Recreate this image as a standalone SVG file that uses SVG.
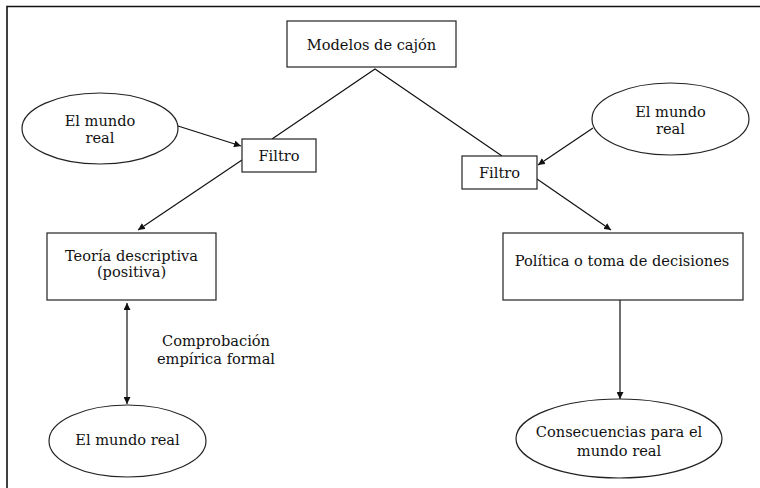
<svg xmlns="http://www.w3.org/2000/svg" width="760" height="488" viewBox="0 0 760 488">
<style>
.n{fill:#fff;stroke:#222;stroke-width:1.2}
.t{font-family:'DejaVu Serif',serif;font-size:14.6px;fill:#111;text-anchor:middle}
.c{fill:none;stroke:#111;stroke-width:1.2}
</style>
<defs>
<marker id="ah" viewBox="0 0 10 10" refX="10" refY="5" markerWidth="7" markerHeight="7" markerUnits="userSpaceOnUse" orient="auto-start-reverse">
<path d="M0,0 L10,5 L0,10 z" fill="#111"/>
</marker>
</defs>
<path d="M7,488 V6.5 H760" fill="none" stroke="#111" stroke-width="1.6"/>
<g id="connectors">
<path class="c" d="M272,139 L375,69 L502,156"/>
<line class="c" x1="178" y1="126" x2="241" y2="146" marker-end="url(#ah)"/>
<line class="c" x1="242" y1="160" x2="138" y2="230" marker-end="url(#ah)"/>
<line class="c" x1="593" y1="128" x2="538" y2="165" marker-end="url(#ah)"/>
<line class="c" x1="537" y1="179" x2="611" y2="230" marker-end="url(#ah)"/>
<line class="c" x1="620" y1="300" x2="620" y2="399" marker-end="url(#ah)"/>
<line class="c" x1="127" y1="303" x2="127" y2="404" marker-start="url(#ah)" marker-end="url(#ah)"/>
<text class="t" x="216" y="346">Comprobación</text>
<text class="t" x="216" y="364">empírica formal</text>
</g>
<g id="modelos">
<rect class="n" x="287" y="21" width="169" height="46"/>
<text class="t" x="371.5" y="50">Modelos de cajón</text>
</g>
<g id="mundo-izq">
<ellipse class="n" cx="100" cy="128.5" rx="78" ry="35.5"/>
<text class="t" x="100" y="126">El mundo</text>
<text class="t" x="100" y="143">real</text>
</g>
<g id="filtro-izq">
<rect class="n" x="242" y="139" width="74" height="33"/>
<text class="t" x="279" y="161">Filtro</text>
</g>
<g id="mundo-der">
<ellipse class="n" cx="670.5" cy="119" rx="78.5" ry="36"/>
<text class="t" x="670.5" y="117">El mundo</text>
<text class="t" x="670.5" y="134">real</text>
</g>
<g id="filtro-der">
<rect class="n" x="462" y="156" width="75" height="33"/>
<text class="t" x="499.5" y="178">Filtro</text>
</g>
<g id="teoria">
<rect class="n" x="47" y="233" width="169" height="67"/>
<text class="t" x="131.5" y="261">Teoría descriptiva</text>
<text class="t" x="131.5" y="277">(positiva)</text>
</g>
<g id="politica">
<rect class="n" x="503" y="233" width="240" height="67"/>
<text class="t" x="622" y="266">Política o toma de decisiones</text>
</g>
<g id="mundo-abajo">
<ellipse class="n" cx="127.5" cy="441" rx="78.5" ry="36"/>
<text class="t" x="127.5" y="445">El mundo real</text>
</g>
<g id="consecuencias">
<ellipse class="n" cx="619" cy="438.5" rx="103" ry="39.5"/>
<text class="t" x="619" y="437">Consecuencias para el</text>
<text class="t" x="619" y="456">mundo real</text>
</g>
</svg>
